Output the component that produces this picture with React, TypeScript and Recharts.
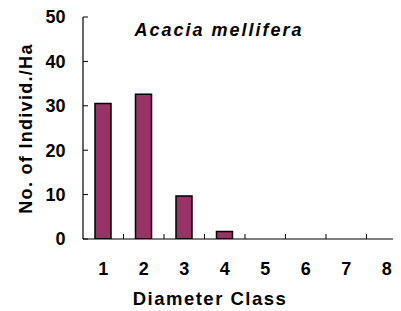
import React from "react";
import { BarChart, Bar, XAxis, YAxis, Label } from "recharts";

const CATEGORIES = ["1", "2", "3", "4", "5", "6", "7", "8"];
const DENSITY = [30.5, 32.6, 9.7, 1.7, 0, 0, 0, 0];
const Y_TICKS = [0, 10, 20, 30, 40, 50];
const TITLE = "Acacia mellifera";
const X_TITLE = "Diameter Class";
const Y_TITLE = "No. of Individ./Ha";

const data = CATEGORIES.map((c, i) => ({ cls: c, value: DENSITY[i] }));

const FONT = "'Liberation Sans', Arial, sans-serif";
const CHART_W = 410;
const CHART_H = 303;
const MARGIN = { top: 9, right: 11, left: 0, bottom: 0 };
const Y_W = 75;
const X_H = 72;
const PLOT_W = CHART_W - MARGIN.left - MARGIN.right - Y_W;

const XTick = (p: any) => {
  const { x, y, payload, index } = p;
  const half = payload && payload.offset ? payload.offset : PLOT_W / CATEGORIES.length / 2;
  const bx = x + half;
  return (
    <g>
      {index < CATEGORIES.length - 1 && (
        <line x1={bx} x2={bx} y1={y} y2={y - 5} stroke="#000" strokeWidth={1} />
      )}
      <text
        x={x}
        y={y + 36}
        textAnchor="middle"
        fontFamily={FONT}
        fontWeight="bold"
        fontSize={18}
        fill="#000"
      >
        {payload.value}
      </text>
    </g>
  );
};

const YTick = (p: any) => {
  const { x, y, payload } = p;
  return (
    <g>
      <line x1={x} x2={x + 5} y1={y} y2={y} stroke="#000" strokeWidth={1} />
      <text
        x={x - 17.5}
        y={y + 6.3}
        textAnchor="end"
        fontFamily={FONT}
        fontWeight="bold"
        fontSize={18}
        fill="#000"
      >
        {payload.value}
      </text>
    </g>
  );
};

const YLabel = (p: any) => {
  const vb = p.viewBox || { x: 0, y: MARGIN.top, width: Y_W, height: 222 };
  const cx = vb.x + 23.7;
  const cy = vb.y + vb.height / 2 + 0.5;
  return (
    <text
      x={cx}
      y={cy}
      transform={`rotate(-90, ${cx}, ${cy})`}
      textAnchor="middle"
      fontFamily={FONT}
      fontWeight="bold"
      fontSize={18}
      letterSpacing={1.3}
      fill="#000"
    >
      {Y_TITLE}
    </text>
  );
};

const XLabel = (p: any) => {
  const vb = p.viewBox || { x: Y_W, y: 231, width: PLOT_W, height: X_H };
  return (
    <text
      x={vb.x + 127}
      y={vb.y + 66}
      textAnchor="middle"
      fontFamily={FONT}
      fontWeight="bold"
      fontSize={18.5}
      letterSpacing={1.5}
      fill="#000"
    >
      {X_TITLE}
    </text>
  );
};

export default function App() {
  return (
    <div
      style={{
        position: "relative",
        width: 393,
        height: CHART_H,
        overflow: "hidden",
        background: "#fff",
      }}
    >
      <div
        style={{
          position: "absolute",
          left: 111,
          top: 13,
          width: 200,
          textAlign: "center",
          fontFamily: FONT,
          fontWeight: "bold",
          fontStyle: "italic",
          fontSize: 18,
          lineHeight: 1,
          letterSpacing: 2,
          color: "#000",
          zIndex: 2,
        }}
      >
        {TITLE}
      </div>
      <BarChart width={CHART_W} height={CHART_H} data={data} margin={MARGIN}>
        <XAxis
          dataKey="cls"
          height={X_H}
          tickSize={0}
          tickMargin={0}
          tickLine={false}
          axisLine={{ stroke: "#000", strokeWidth: 1.2 }}
          tick={<XTick />}
          interval={0}
        >
          <Label content={<XLabel />} />
        </XAxis>
        <YAxis
          width={Y_W}
          domain={[0, 50]}
          ticks={Y_TICKS}
          type="number"
          allowDataOverflow
          tickSize={0}
          tickMargin={0}
          tickLine={false}
          axisLine={{ stroke: "#000", strokeWidth: 1.2 }}
          tick={<YTick />}
          interval={0}
        >
          <Label content={<YLabel />} />
        </YAxis>
        <Bar
          dataKey="value"
          fill="#993366"
          stroke="#000"
          strokeWidth={1.5}
          barSize={16}
          isAnimationActive={false}
        />
      </BarChart>
    </div>
  );
}
